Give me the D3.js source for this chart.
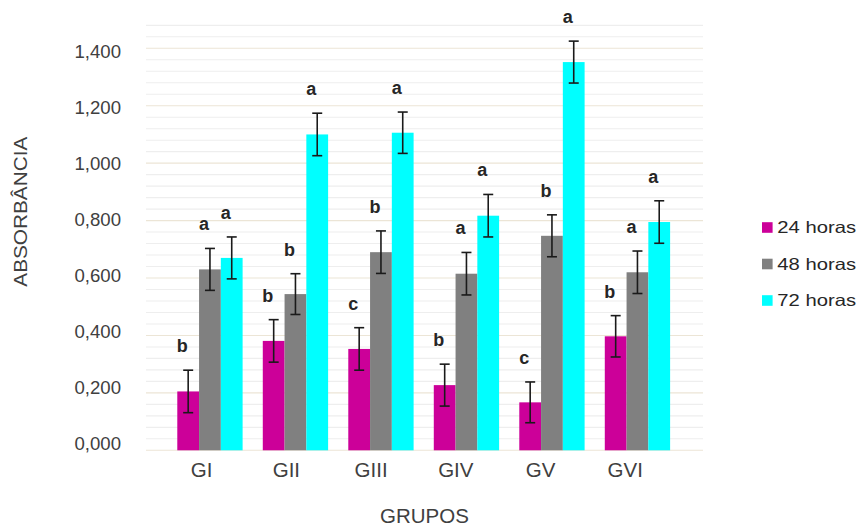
<!DOCTYPE html>
<html>
<head>
<meta charset="utf-8">
<script src="https://cdn.jsdelivr.net/npm/d3@7/dist/d3.min.js"></script>
<style>
  html, body { margin: 0; padding: 0; background: #ffffff; }
  svg { display: block; font-family: "Liberation Sans", Arial, sans-serif; }
</style>
</head>
<body>
<svg id="chart" width="859" height="527"></svg>
<script>
// Absorbance per group at 24, 48 and 72 hours (mean ± error)
const groups = ["GI", "GII", "GIII", "GIV", "GV", "GVI"];
const seriesNames = ["24 horas", "48 horas", "72 horas"];
const values24 = [0.205, 0.381, 0.353, 0.227, 0.167, 0.397];
const values48 = [0.630, 0.544, 0.690, 0.615, 0.747, 0.620];
const values72 = [0.670, 1.100, 1.106, 0.817, 1.352, 0.795];
const errors24 = [0.074, 0.074, 0.074, 0.073, 0.071, 0.072];
const errors48 = [0.073, 0.071, 0.074, 0.074, 0.073, 0.074];
const errors72 = [0.073, 0.074, 0.072, 0.074, 0.073, 0.074];
const letters24 = ["b", "b", "c", "b", "c", "b"];
const letters48 = ["a", "b", "b", "a", "b", "a"];
const letters72 = ["a", "a", "a", "a", "a", "a"];
const yTickValues = [0, 0.2, 0.4, 0.6, 0.8, 1.0, 1.2, 1.4];
const colors = ["#cc0099", "#808080", "#00ffff"];

const seriesValues = [values24, values48, values72];
const seriesErrors = [errors24, errors48, errors72];
const seriesLetters = [letters24, letters48, letters72];

const rows = [];
groups.forEach((g, gi) => {
  seriesNames.forEach((s, si) => {
    rows.push({
      group: g, series: s,
      value: seriesValues[si][gi],
      error: seriesErrors[si][gi],
      letter: seriesLetters[si][gi]
    });
  });
});

const svg = d3.select("#chart");
const gridLeft = 146, gridRight = 703;

const y = d3.scaleLinear().domain([0, 1.4]).range([450.3, 48.3]);
const x = d3.scaleBand().domain(groups).range([167.2, 680.2])
  .paddingInner(0.236).paddingOuter(0.118);
const xs = d3.scaleBand().domain(seriesNames).range([0, x.bandwidth()]);
const color = d3.scaleOrdinal().domain(seriesNames).range(colors);

// Gridlines every 0.04, warmer tint on the labelled 0.2 steps
const gridValues = d3.range(0, 38).map(i => +(i * 0.04).toFixed(2)).filter(v => v <= 1.48);
svg.append("g").selectAll("line").data(gridValues).join("line")
  .attr("x1", gridLeft).attr("x2", gridRight)
  .attr("y1", d => y(d)).attr("y2", d => y(d))
  .attr("stroke", d => (Math.round(d * 100) % 20 === 0) ? "#ece5d6" : "#eeeeee")
  .attr("stroke-width", 1.1);

// Y tick labels (comma decimal separator)
const yLabel = d3.scaleLinear().domain([0, 1.4]).range([443.3, 51.7]);
svg.append("g").selectAll("text").data(yTickValues).join("text")
  .attr("x", 121).attr("y", d => yLabel(d))
  .attr("dy", "0.36em")
  .attr("text-anchor", "end")
  .attr("font-size", 18.6)
  .attr("fill", "#404040")
  .text(d => d3.format(".3f")(d).replace(".", ","));

// Bars
svg.append("g").selectAll("rect").data(rows).join("rect")
  .attr("x", d => x(d.group) + xs(d.series))
  .attr("y", d => y(d.value))
  .attr("width", xs.bandwidth())
  .attr("height", d => y(0) - y(d.value))
  .attr("fill", d => color(d.series));

// Error bars
const capHalf = 5;
const errG = svg.append("g").attr("stroke", "#1a1a1a").attr("stroke-width", 1.6);
rows.forEach(d => {
  const cx = x(d.group) + xs(d.series) + xs.bandwidth() / 2;
  const yt = y(d.value + d.error), yb = y(d.value - d.error);
  errG.append("line").attr("x1", cx).attr("x2", cx).attr("y1", yt).attr("y2", yb);
  errG.append("line").attr("x1", cx - capHalf).attr("x2", cx + capHalf).attr("y1", yt).attr("y2", yt);
  errG.append("line").attr("x1", cx - capHalf).attr("x2", cx + capHalf).attr("y1", yb).attr("y2", yb);
});

// Significance letters above each error bar
svg.append("g").selectAll("text").data(rows).join("text")
  .attr("x", d => x(d.group) + xs(d.series) + xs.bandwidth() / 2 - 6)
  .attr("y", d => y(d.value + d.error) - 18)
  .attr("text-anchor", "middle")
  .attr("font-size", 18)
  .attr("font-weight", "bold")
  .attr("fill", "#262626")
  .text(d => d.letter);

// Category labels
const xLabel = d3.scalePoint().domain(groups).range([201.7, 625.2]);
svg.append("g").selectAll("text").data(groups).join("text")
  .attr("x", d => xLabel(d)).attr("y", 476.5)
  .attr("text-anchor", "middle")
  .attr("font-size", 20.5)
  .attr("fill", "#404040")
  .text(d => d);

// Axis titles
svg.append("text")
  .attr("x", (gridLeft + gridRight) / 2).attr("y", 523.3)
  .attr("text-anchor", "middle")
  .attr("font-size", 20.5)
  .attr("fill", "#404040")
  .text("GRUPOS");

svg.append("text")
  .attr("transform", "translate(26.7,211.7) rotate(-90)")
  .attr("text-anchor", "middle")
  .attr("font-size", 19)
  .attr("textLength", 150)
  .attr("lengthAdjust", "spacingAndGlyphs")
  .attr("fill", "#404040")
  .text("ABSORBÂNCIA");

// Legend
const legend = svg.append("g").attr("transform", "translate(762,227.5)");
const li = legend.selectAll("g").data(seriesNames).join("g")
  .attr("transform", (d, i) => `translate(0,${i * 36.5})`);
li.append("rect")
  .attr("x", 0).attr("y", -5.3).attr("width", 10.6).attr("height", 10.6)
  .attr("fill", d => color(d));
li.append("text")
  .attr("x", 15.3).attr("y", 0).attr("dy", "0.36em")
  .attr("font-size", 16.5)
  .attr("textLength", 78.7)
  .attr("lengthAdjust", "spacingAndGlyphs")
  .attr("fill", "#262626")
  .text(d => d);
</script>
</body>
</html>
